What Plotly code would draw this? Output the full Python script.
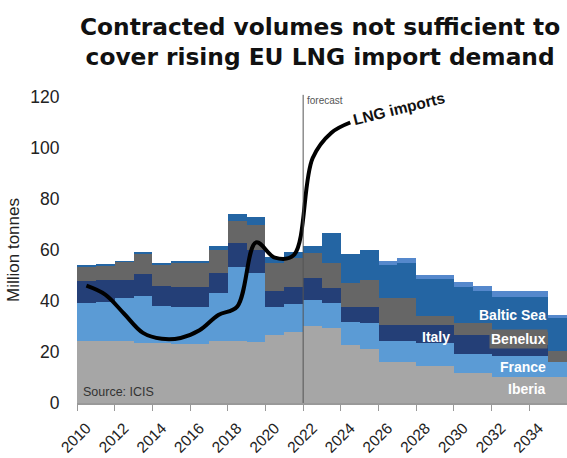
import plotly.graph_objects as go

years = list(range(2010, 2036))
iberia = [24.4,24.4,24.2,23.6,23.4,23.0,23.1,24.2,24.4,23.8,26.7,27.7,30.2,29.3,22.7,21.0,16.2,16.0,14.5,14.5,11.6,11.6,10.3,10.3,10.3,10.3]
france = [14.9,15.1,16.8,18.4,14.6,14.8,14.4,18.8,29.1,27.3,10.8,11.1,10.2,9.8,9.2,10.2,8.2,8.4,8.9,8.9,7.6,7.6,8.0,8.0,8.0,5.7]
italy = [8.7,8.7,7.2,8.6,7.9,7.8,7.9,8.1,9.1,8.9,6.5,6.6,8.5,5.9,5.6,6.3,6.2,6.2,7.2,7.2,7.3,7.3,4.6,4.6,4.6,0.0]
benelux = [5.7,5.8,7.2,8.1,8.5,9.2,9.4,8.9,8.6,9.8,10.8,11.3,10.0,10.0,9.4,10.7,10.4,10.4,3.5,3.5,4.8,4.8,5.1,5.1,5.1,4.5]
baltic = [0.3,0.3,0.2,0.2,0.4,0.8,1.0,1.7,2.9,3.0,2.3,2.4,2.7,11.8,11.4,11.8,13.0,14.0,14.4,14.4,14.1,12.7,13.7,13.7,13.7,12.8]
other = [0]*16 + [1.8,2.0,1.7,1.7,2.0,2.0,2.3,2.3,2.3,1.2]

lng_years = list(range(2010, 2025))
lng_imports = [46, 42.5, 35, 27.5, 25.2, 25.5, 28.5, 34.5, 37.8, 63, 57, 58, 96, 106, 110]

tick_years = list(range(2010, 2035, 2))
tick_labels = [str(y) for y in tick_years]
boundary_ticks = [y - 0.5 for y in range(2010, 2037, 2)]

series = [
    ("Iberia", iberia, "#A6A6A6"),
    ("France", france, "#5B9BD5"),
    ("Italy", italy, "#243F77"),
    ("Benelux", benelux, "#666666"),
    ("Baltic Sea", baltic, "#2465A3"),
    ("Other", other, "#5588CC"),
]

FONT = "Liberation Sans, Arial, sans-serif"
fig = go.Figure()
for name, vals, col in series:
    fig.add_trace(go.Bar(x=years, y=vals, name=name, marker=dict(color=col, line=dict(width=0)),
                         showlegend=False, hoverinfo="skip"))

fig.add_trace(go.Scatter(x=lng_years, y=lng_imports, mode="lines", xaxis="x2",
                         line=dict(color="black", width=4, shape="spline", smoothing=1),
                         showlegend=False))

xr = [2009.5, 2035.5]
fig.update_layout(
    width=567, height=458,
    margin=dict(l=77, r=0, t=97, b=55, autoexpand=False),
    paper_bgcolor="white", plot_bgcolor="white",
    barmode="stack", bargap=0,
    font=dict(family=FONT, color="#222"),
    xaxis=dict(range=xr, tickvals=boundary_ticks, showticklabels=False, ticks="outside", ticklen=6,
               tickcolor="#999", showline=True, linecolor="#999", linewidth=1.5, showgrid=False,
               zeroline=False),
    xaxis2=dict(range=xr, overlaying="x", anchor="y", side="bottom", tickvals=tick_years,
                ticktext=tick_labels, tickangle=-45, ticks="outside", ticklen=9,
                tickcolor="rgba(0,0,0,0)", showline=False, showgrid=False, zeroline=False,
                tickfont=dict(size=15.5, color="#222")),
    yaxis=dict(range=[0, 120], tickvals=list(range(0, 121, 20)), showgrid=False, zeroline=False,
               showline=False, ticks="outside", ticklen=13, tickcolor="rgba(0,0,0,0)",
               tickfont=dict(size=17.5, color="#222"),
               title=dict(text="Million tonnes", font=dict(size=17, color="#222"), standoff=6)),
)

fig.add_shape(type="line", x0=2021.5, x1=2021.5, xref="x", y0=0, y1=1.007, yref="paper",
              line=dict(color="#555", width=1))

anns = [
    dict(text="<b>Contracted volumes not sufficient to<br>cover rising EU LNG import demand</b>",
         x=(320 - 77) / 490, xref="paper", y=1.18, yref="paper", xanchor="center", yanchor="middle",
         font=dict(size=23.3, color="#111", family="DejaVu Sans, Liberation Sans, sans-serif")),
    dict(text="forecast", x=2021.6, y=0.987, yref="paper", xanchor="left", yanchor="middle",
         font=dict(size=10, color="#555")),
    dict(text="<b>LNG imports</b>", x=2026.6, y=115.6, xanchor="center", yanchor="middle",
         textangle=-14, font=dict(size=15.5, color="#111")),
    dict(text="<b>Baltic Sea</b>", x=2034.5, y=34.7, xanchor="right", yanchor="middle",
         font=dict(size=14, color="white")),
    dict(text="<b>Benelux</b>", x=2034.5, y=25.2, xanchor="right", yanchor="middle",
         font=dict(size=14, color="white"), bgcolor="#666666", borderpad=1),
    dict(text="<b>Italy</b>", x=2028.55, y=26.0, xanchor="center", yanchor="middle",
         font=dict(size=14, color="white")),
    dict(text="<b>France</b>", x=2034.5, y=14.1, xanchor="right", yanchor="middle",
         font=dict(size=14, color="white")),
    dict(text="<b>Iberia</b>", x=2034.5, y=5.5, xanchor="right", yanchor="middle",
         font=dict(size=14, color="white")),
    dict(text="Source: ICIS", x=2009.72, y=4.5, xanchor="left", yanchor="middle",
         font=dict(size=12.5, color="#333")),
]
for a in anns:
    a.setdefault("xref", "x")
    a.setdefault("yref", "y")
    a["showarrow"] = False
    fig.add_annotation(**a)

fig.write_html("out.html")
